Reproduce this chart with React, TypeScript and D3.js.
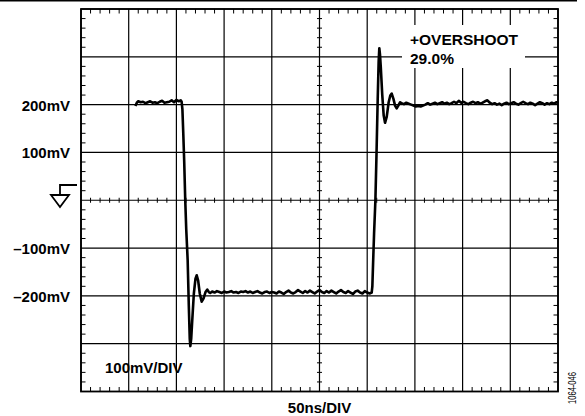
import * as d3 from "d3"

// scope trace, time in ns (50ns/div), amplitude in mV (100mV/div)
const highStart: [number, number][] = [
  [57, 197], [58.5, 204], [60, 207], [62.5, 205], [65, 206], [67.5, 203], [70, 205],
  [72.5, 207], [75, 204], [77.5, 205], [80, 203], [82.5, 206], [85, 208], [87.5, 204],
  [90, 205], [92.5, 206], [95, 209], [97.5, 205], [100, 210], [102.5, 207], [104.5, 209],
  [105.5, 206],
]

const fallingEdge: [number, number][] = [
  [106.3, 190], [107.2, 140], [108.2, 80], [109.2, 5], [110.3, -60], [111.8, -125],
  [113, -220], [114, -290], [114.6, -305], [115.5, -290], [116.5, -255], [118.3, -195], [120, -164],
  [121.3, -157], [122.8, -168], [124.5, -195], [126.5, -212], [128.5, -205], [130.5, -192],
  [132.4, -187], [134, -192], [135.5, -194],
]

const lowFlat: [number, number][] = [
  [137.5, -191], [140, -193], [142.5, -190], [145, -192], [147.5, -194], [150, -191],
  [152.5, -193], [155, -192], [157.5, -190], [160, -193], [162.5, -192], [165, -194],
  [167.5, -191], [170, -192], [172.5, -190], [175, -193], [177.5, -191], [180, -194],
  [182.5, -192], [185, -190], [187.5, -193], [190, -195], [192.5, -192], [195, -191],
  [197.5, -194], [200, -192], [202.5, -193], [205, -195], [207.5, -191], [210, -193],
  [212.5, -196], [215, -192], [217.5, -189], [220, -193], [222.5, -195], [225, -192],
  [227.5, -188], [230, -191], [232.5, -194], [235, -190], [237.5, -193], [240, -189],
  [242.5, -192], [245, -195], [247.5, -191], [250, -188], [252.5, -192], [255, -194],
  [257.5, -190], [260, -193], [262.5, -189], [265, -192], [267.5, -195], [270, -191],
  [272.5, -188], [275, -192], [277.5, -194], [280, -190], [282.5, -193], [285, -196],
  [287.5, -191], [290, -189], [292.5, -193], [295, -195], [297.5, -190], [300, -193],
  [302.5, -195], [304.7, -193],
]

const risingEdge: [number, number][] = [
  [305.4, -180], [306.2, -130], [307.2, -70], [308.6, 0], [309.8, 100], [311, 210],
  [312, 290], [312.7, 318], [313.4, 305], [314.2, 280], [315.8, 220], [317.3, 177], [318.7, 162],
  [320.5, 175], [322.5, 205], [324.2, 219], [325.7, 223], [327.5, 212], [329.2, 198],
  [330.9, 192], [332.6, 198], [334.4, 205],
]

const highEnd: [number, number][] = [
  [336, 203], [338.5, 201], [341, 204], [343.5, 202], [346, 200], [348.5, 198],
  [351, 196], [353.5, 197], [356, 196], [358.5, 198], [361, 200], [363.5, 203],
  [366, 200], [368.5, 202], [371, 204], [373.5, 201], [376, 203], [378.5, 205],
  [381, 202], [383.5, 204], [386, 201], [388.5, 203], [391, 206], [393.5, 203],
  [396, 208], [398.5, 204], [401, 206], [403.5, 203], [406, 201], [408.5, 204],
  [411, 206], [413.5, 203], [416, 205], [418.5, 202], [421, 204], [423.5, 207],
  [426, 209], [428.5, 204], [431, 201], [433.5, 203], [436, 200], [438.5, 202],
  [441, 199], [443.5, 202], [446, 204], [448.5, 201], [451, 203], [453.5, 205],
  [456, 202], [458.5, 200], [461, 203], [463.5, 206], [466, 203], [468.5, 201],
  [471, 204], [473.5, 202], [476, 199], [478.5, 202], [481, 205], [483.5, 203],
  [486, 200], [488.5, 203], [491, 201], [493.5, 204], [496, 202], [498.5, 205],
  [500, 203],
]

const gridNs = [0, 50, 100, 150, 200, 250, 300, 350, 400, 450, 500]
const gridMv = [-400, -300, -200, -100, 0, 100, 200, 300, 400]
const labelMv = [200, 100, -100, -200]
const labelText = ["200mV", "100mV", "\u2013100mV", "\u2013200mV"]

const W = 585
const H = 416
const FONT = "'Liberation Sans', Arial, Helvetica, sans-serif"

export default function App() {
  const x = d3.scaleLinear().domain([0, 500]).range([81, 558])
  const y = d3.scaleLinear().domain([-400, 400]).range([391.5, 9])

  const trace = [...highStart, ...fallingEdge, ...lowFlat, ...risingEdge, ...highEnd]
  const line = d3.line<[number, number]>()
    .x(d => x(d[0]))
    .y(d => y(d[1]))
    .curve(d3.curveLinear)

  const minorNs = d3.range(0, 501, 10).filter(t => t % 50 !== 0)
  const minorMv = d3.range(-400, 401, 20).filter(v => v % 100 !== 0)
  const [x0, x1] = x.range()
  const [y0, y1] = y.range()
  const xc = x(250)
  const yc = y(0)

  return (
    <svg width={W} height={H} style={{ position: "absolute", left: 0, top: 0, background: "#fff" }}
      fontFamily={FONT}>
      <line x1={0} x2={577} y1={0.8} y2={0.8} stroke="#000" strokeWidth={1.6} />

      {/* major grid */}
      <g stroke="#000" strokeWidth={1.2}>
        {gridNs.map(t => <line key={"gx" + t} x1={x(t)} x2={x(t)} y1={y1} y2={y0} />)}
        {gridMv.map(v => <line key={"gy" + v} x1={x0} x2={x1} y1={y(v)} y2={y(v)} />)}
      </g>

      {/* minor ticks */}
      <g stroke="#000" strokeWidth={1}>
        {minorNs.map(t => (
          <g key={"mt" + t}>
            <line x1={x(t)} x2={x(t)} y1={y1} y2={y1 + 4.5} />
            <line x1={x(t)} x2={x(t)} y1={y0} y2={y0 - 4.5} />
            <line x1={x(t)} x2={x(t)} y1={yc - 2.5} y2={yc + 2.5} />
          </g>
        ))}
        {minorMv.map(v => (
          <g key={"mv" + v}>
            <line x1={x0} x2={x0 + 4.5} y1={y(v)} y2={y(v)} />
            <line x1={x1} x2={x1 - 4.5} y1={y(v)} y2={y(v)} />
            <line x1={xc - 2.5} x2={xc + 2.5} y1={y(v)} y2={y(v)} />
          </g>
        ))}
      </g>

      <rect x={x0} y={y1} width={x1 - x0} height={y0 - y1} fill="none" stroke="#000" strokeWidth={1.8} />

      <path d={line(trace) || ""} fill="none" stroke="#000" strokeWidth={2.6} strokeLinejoin="round" />

      {/* overshoot annotation */}
      <rect x={402} y={25} width={123} height={43} fill="#fff" />
      <text x={410} y={44.5} fontSize={15.5} fontWeight="bold">+OVERSHOOT</text>
      <text x={410} y={64} fontSize={15.5} fontWeight="bold">29.0%</text>

      {/* y labels */}
      <g fontSize={15} fontWeight="bold" textAnchor="end">
        {labelMv.map((v, i) => (
          <text key={v} x={70} y={y(v) + 6}>{labelText[i]}</text>
        ))}
      </g>

      {/* ground symbol */}
      <g fill="none" stroke="#000" strokeWidth={1.8}>
        <polyline points={`77,185 60,185 60,195`} />
        <polygon points={`51,195 69,195 60,207`} strokeLinejoin="miter" />
      </g>

      <text x={105} y={372.5} fontSize={15} fontWeight="bold">100mV/DIV</text>
      <text x={xc} y={412.5} fontSize={15} fontWeight="bold" textAnchor="middle">50ns/DIV</text>
      <text transform="translate(576,404) rotate(-90)" fontSize={10} textLength={32}
        lengthAdjust="spacingAndGlyphs">1064-046</text>
    </svg>
  )
}
